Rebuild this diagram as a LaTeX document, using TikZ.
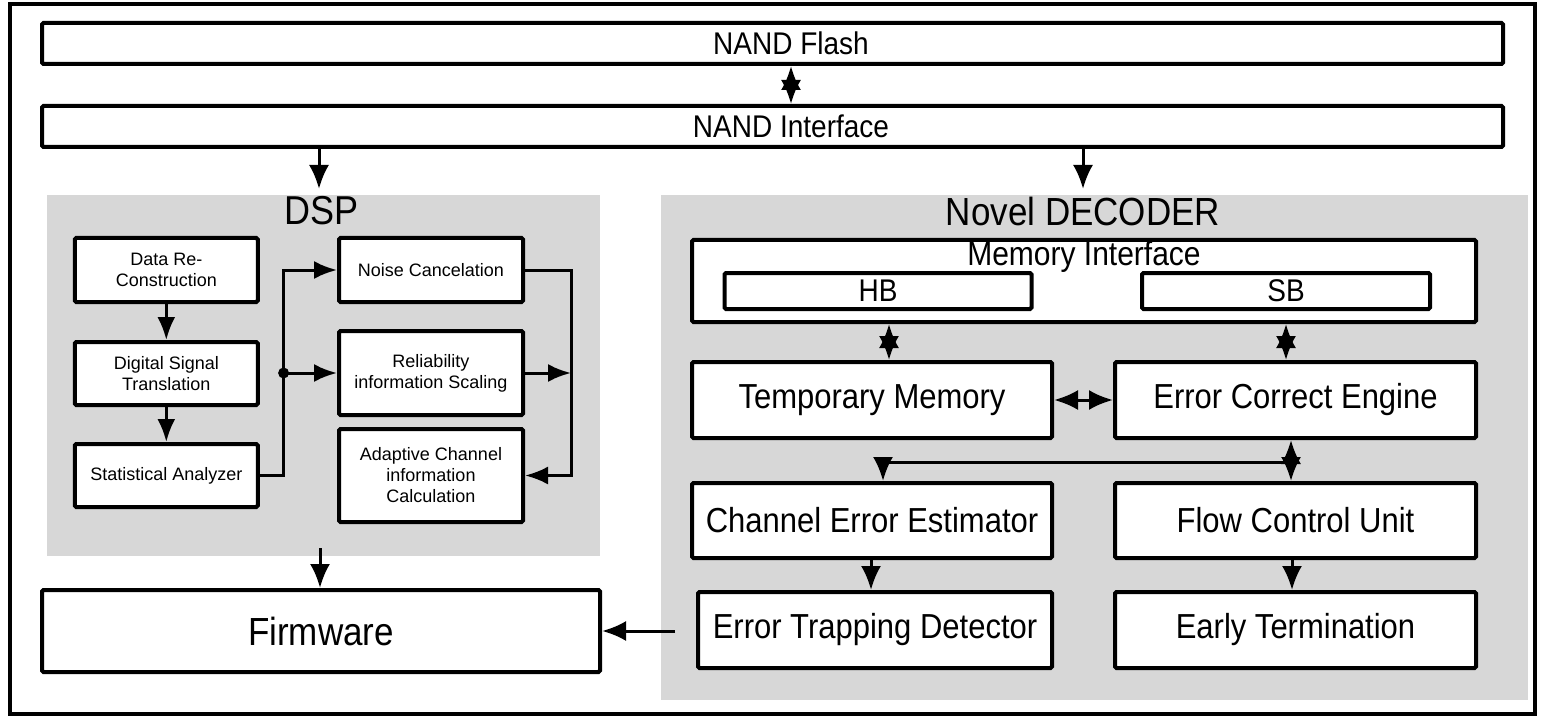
\documentclass[tikz,border=0pt]{standalone}
\usepackage{fontspec}
\usepackage{graphicx}
\setmainfont{Liberation Sans}
\usetikzlibrary{arrows.meta}
\definecolor{panelgray}{RGB}{215,215,215}
% slightly tall lettering
\newcommand{\tallword}[1]{\scalebox{1}[1.12]{#1}}
\begin{document}
\begin{tikzpicture}[x=1pt,y=-1pt,
  box/.style={draw, line width=4pt, fill=white, rounded corners=1.5pt, inner sep=0pt, align=center},
  panel/.style={fill=panelgray, inner sep=0pt},
  con/.style={line width=3pt},
  arr/.style={con, -{Latex[length=24pt,width=20pt]}},
  darr/.style={con, {Latex[length=24pt,width=20pt]}-{Latex[length=24pt,width=20pt]}},
  sarr/.style={con, -{Latex[length=23pt,width=18pt]}},
  toptxt/.style={font=\fontsize{28}{33}\selectfont, inner sep=0pt},
  headtxt/.style={font=\fontsize{36}{40}\selectfont},
  dectxt/.style={font=\fontsize{31}{35}\selectfont},
  dsptxt/.style={font=\fontsize{18}{21}\selectfont}
]
\useasboundingbox (0,0) rectangle (1545,722);
\draw[line width=4pt] (10,4) rectangle (1535,714);

% memory side
\node[box, minimum width=1461, minimum height=41] (flash) at (772.5,43.5) {};
\node[toptxt] (flashtxt) at (791,43.5) {\tallword{NAND Flash}};
\node[box, minimum width=1461, minimum height=41] (nandif) at (772.5,126.5) {};
\node[toptxt] (nandiftxt) at (791,126.5) {\tallword{NAND Interface}};
\coordinate (midx) at (791,0);
\draw[darr] (flash.south -| midx) -- (nandif.north -| midx);

% shaded groups
\node[panel, minimum width=553, minimum height=361] (dsp) at (323.5,375.5) {};
\node[panel, minimum width=867, minimum height=505] (dec) at (1094.5,447.5) {};
\node[headtxt] (dsptitle) at (322,211) {\tallword{DSP}};
\node[headtxt, font=\fontsize{35}{40}\selectfont] (dectitle) at (1083,211) {\tallword{Novel DECODER}};

\coordinate (dspin) at (319,189);
\coordinate (decin) at (1083,189);
\draw[arr] (nandif.south -| dspin) -- (dspin);
\draw[arr] (nandif.south -| decin) -- (decin);

% DSP blocks
\node[box, dsptxt, minimum width=183, minimum height=64] (datare) at (166.3,270) {Data Re-\\Construction};
\node[box, dsptxt, minimum width=183, minimum height=63] (digital) at (166.3,373.5) {Digital Signal\\Translation};
\node[box, dsptxt, minimum width=183, minimum height=63] (stat) at (166.3,475.5) {Statistical Analyzer};
\node[box, dsptxt, minimum width=184, minimum height=64] (noise) at (431,270) {Noise Cancelation};
\node[box, dsptxt, minimum width=184, minimum height=84] (rel) at (431,373) {Reliability\\information Scaling};
\node[box, dsptxt, minimum width=184, minimum height=93] (adapt) at (431,475.5) {Adaptive Channel\\information\\Calculation};

\draw[sarr] (datare) -- (digital);
\draw[sarr] (digital) -- (stat);
\coordinate (split) at (283.6,373);
\coordinate (merge) at (571,373);
\draw[sarr] (stat.east) -| (split) |- (noise.west);
\fill (split) circle (5.5);
\draw[sarr] (split) -- (rel.west);
\draw[sarr] (noise.east) -| (merge) |- (adapt.east);
\draw[sarr] (rel.east) -- (merge);

% firmware
\node[box, headtxt, font=\fontsize{35}{40}\selectfont, minimum width=558, minimum height=82] (fw) at (321,631) {\tallword{Firmware}};
\coordinate (dspout) at (320,548);
\draw[arr] (dspout) -- (fw.north -| dspout);

% decoder blocks
\node[box, minimum width=784, minimum height=82] (memif) at (1084,281) {};
\node[dectxt, font=\fontsize{30}{35}\selectfont] (memiftxt) at (1084,257) {\tallword{Memory Interface}};
\node[box, font=\fontsize{28}{32}\selectfont, minimum width=307, minimum height=36] (hb) at (878,291) {\tallword{HB}};
\node[box, font=\fontsize{28}{32}\selectfont, minimum width=288, minimum height=36] (sb) at (1286,291) {\tallword{SB}};

\node[box, dectxt, minimum width=360, minimum height=76] (temp) at (872,400) {\tallword{Temporary Memory}};
\node[box, dectxt, minimum width=361, minimum height=76] (ece) at (1295.5,400) {\tallword{Error Correct Engine}};
\node[box, dectxt, minimum width=360, minimum height=75] (chan) at (872,520.5) {\tallword{Channel Error Estimator}};
\node[box, dectxt, minimum width=361, minimum height=75] (flow) at (1295.5,520.5) {\tallword{Flow Control Unit}};
\node[box, dectxt, minimum width=354, minimum height=76] (trap) at (875,630) {\tallword{Error Trapping Detector}};
\node[box, dectxt, minimum width=361, minimum height=76] (early) at (1295.5,630) {\tallword{Early Termination}};

\coordinate (hbx) at (889,0);
\coordinate (sbx) at (1286,0);
\draw[darr] (memif.south -| hbx) -- (temp.north -| hbx);
\draw[darr] (memif.south -| sbx) -- (ece.north -| sbx);
\draw[darr] (temp.east) -- (ece.west);

\coordinate (busr) at (1291,462);
\coordinate (busl) at (883,462);
\draw[darr] (ece.south -| busr) -- (flow.north -| busr);
\draw[con] (busr) -- (busl);
\draw[arr] (busl) -- (chan.north -| busl);

\coordinate (lx) at (871,0);
\coordinate (rx) at (1292,0);
\draw[arr] (chan.south -| lx) -- (trap.north -| lx);
\draw[arr] (flow.south -| rx) -- (early.north -| rx);

\coordinate (trapout) at (675,631);
\draw[arr] (trapout) -- (fw.east);
\end{tikzpicture}
\end{document}
